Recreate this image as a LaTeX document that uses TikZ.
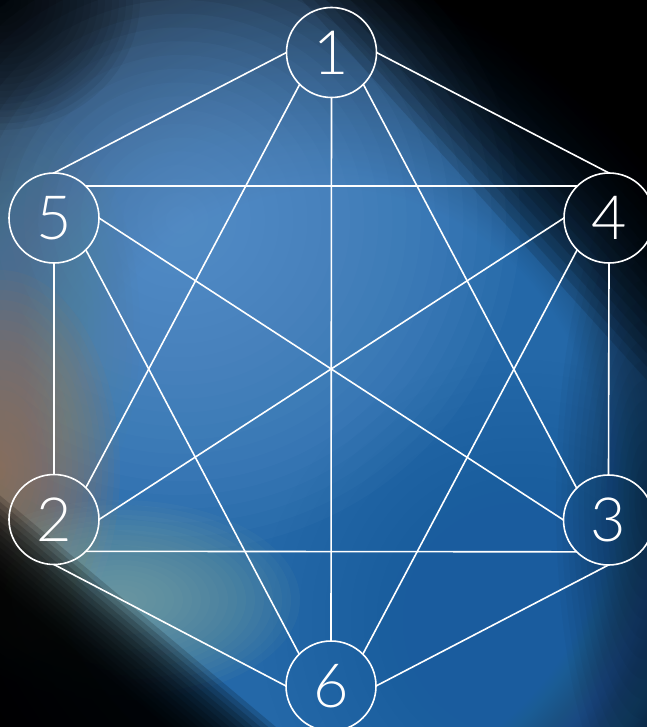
\documentclass[tikz,border=0pt]{standalone}
\usepackage{fontspec}
\setmainfont{Lato Light}
\definecolor{mainblue}{HTML}{2468A8}
\definecolor{lightblue}{HTML}{6398D0}
\definecolor{deepblue}{HTML}{1A5C9E}
\definecolor{warm}{HTML}{A07A58}
\definecolor{sage}{HTML}{8DB0A0}
\definecolor{slate}{HTML}{5E7F8F}
\pgfdeclareradialshading{bgmain}{\pgfpointorigin}{color(0bp)=(mainblue); color(13bp)=(mainblue); color(23bp)=(black); color(50bp)=(black)}
\tikzset{
  vertex/.style={circle, draw=white, line width=1.6pt, minimum size=90pt, inner sep=0pt, outer sep=0pt, text=white, font=\fontsize{61}{61}\selectfont},
  edge/.style={draw=white, line width=1.6pt}
}
\begin{document}
\begin{tikzpicture}[x=1pt,y=-1pt]
\useasboundingbox (0,0) rectangle (646,727);
% background
\fill[black] (0,0) rectangle (646,727);
\shade[shading=bgmain] (-190,-80) rectangle (850,1040);
\foreach \k in {1,...,24}
  \fill[lightblue, opacity=0.065] (180,220) ellipse [x radius={340*\k/24}, y radius={330*\k/24}];
\foreach \k in {1,...,20}
  \fill[slate, opacity=0.05] (10,330) ellipse [x radius={130*\k/20}, y radius={230*\k/20}];
\foreach \k in {1,...,20}
  \fill[deepblue, opacity=0.035] (520,620) ellipse [x radius={260*\k/20}, y radius={260*\k/20}];
\foreach \k in {1,...,20}
  \fill[warm, opacity=0.075] (0,470) ellipse [x radius={120*\k/20}, y radius={200*\k/20}];
\foreach \k in {1,...,20}
  \fill[sage, opacity=0.06] (120,600) ellipse [x radius={180*\k/20}, y radius={100*\k/20}];
\foreach \k in {1,...,20}
  \fill[black, opacity=0.06] (0,0) ellipse [x radius={140*\k/20}, y radius={130*\k/20}];
\foreach \k in {1,...,16}
  \fill[black, opacity=0.03] (646,500) ellipse [x radius={90*\k/16}, y radius={320*\k/16}];
% bottom-left dark corner
\foreach \k in {0,...,14}
  \fill[black, opacity=0.17, rotate around={-40:(130,628)}] (-300,{610+5*\k}) rectangle (600,950);
% top-right dark corner
\foreach \k in {0,...,16}
  \fill[black, opacity=0.12, rotate around={-47.8:(528,130)}] (150,-400) rectangle (950,{210-9*\k});
% nodes
\node[vertex] (n1) at (331.5,52.5) {1};
\node[vertex] (n5) at (54,218) {5};
\node[vertex] (n4) at (609,218) {4};
\node[vertex] (n2) at (54,519.5) {2};
\node[vertex] (n3) at (608.5,520) {3};
\node[vertex] (n6) at (331,686) {6};
% edges
\draw[edge] (n1.west) -- (n5.north);
\draw[edge] (n1.east) -- (n4.north);
\draw[edge] (n1.south west) -- (n2.north east);
\draw[edge] (n1.south) -- (n6.north);
\draw[edge] (n1.south east) -- (n3.north west);
\draw[edge] (n5.north east) -- (n4.north west);
\draw[edge] (n5.south) -- (n2.north);
\draw[edge] (n5.east) -- (n3.west);
\draw[edge] (n5.south east) -- (n6.north west);
\draw[edge] (n4.south) -- (n3.north);
\draw[edge] (n4.west) -- (n2.east);
\draw[edge] (n4.south west) -- (n6.north east);
\draw[edge] (n2.south east) -- (n3.south west);
\draw[edge] (n2.south) -- (n6.west);
\draw[edge] (n3.south) -- (n6.east);
\end{tikzpicture}
\end{document}
